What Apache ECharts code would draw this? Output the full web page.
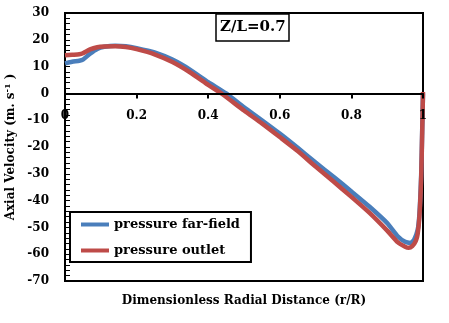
<!DOCTYPE html>
<html>
<head>
<meta charset="utf-8">
<script src="https://cdn.jsdelivr.net/npm/echarts@6/dist/echarts.min.js"></script>
<style>
  html, body { margin: 0; padding: 0; background: #fff; }
  #chart { width: 449px; height: 323px; }
</style>
</head>
<body>
<div id="chart"></div>
<script>
// radial positions (r/R) and axial velocity for each boundary condition
const rBlue = [0, 0.02, 0.04, 0.05, 0.07, 0.09, 0.11, 0.14, 0.17, 0.2, 0.25, 0.3, 0.35, 0.4, 0.45, 0.5, 0.55, 0.6, 0.65, 0.7, 0.75, 0.8, 0.85, 0.9, 0.93, 0.95, 0.965, 0.975, 0.985, 0.99, 0.995, 0.998, 1]
const farField = [11.2, 11.8, 12.2, 12.6, 14.8, 16.6, 17.4, 17.8, 17.6, 16.9, 15.3, 12.6, 8.8, 4.2, 0, -5.2, -10, -15, -20.3, -25.8, -31.1, -36.6, -42.2, -48.4, -53.4, -55.4, -55.8, -54.6, -51, -45, -30, -12, 0]

const rRed = [0, 0.02, 0.04, 0.05, 0.07, 0.09, 0.11, 0.14, 0.17, 0.2, 0.25, 0.3, 0.35, 0.4, 0.44, 0.5, 0.55, 0.6, 0.65, 0.7, 0.75, 0.8, 0.85, 0.9, 0.93, 0.95, 0.96, 0.97, 0.98, 0.985, 0.99, 0.995, 0.998, 1]
const outlet = [14.2, 14.4, 14.6, 15, 16.4, 17.2, 17.5, 17.6, 17.3, 16.5, 14.6, 11.7, 7.8, 3.2, -0.3, -6.4, -11.2, -16.3, -21.5, -27.3, -32.9, -38.6, -44.5, -51.2, -55.6, -57.2, -57.6, -57, -55, -52.5, -46, -31, -13, 0.5]

const xTicks = [0, 0.2, 0.4, 0.6, 0.8, 1]
const yMin = -70
const yMax = 30

const font = 'DejaVu Serif'
const gridTop = 13
const gridBottom = 42
const plotH = 323 - gridTop - gridBottom
// lift the x axis (line, ticks, labels) up to y = 0 like the Excel original
const zeroOffset = -plotH * (0 - yMin) / (yMax - yMin)

const chart = echarts.init(document.getElementById('chart'))

chart.setOption({
  animation: false,
  title: [
    {
      text: 'Z/L=0.7',
      left: 216,
      top: 14,
      padding: [6, 4, 6, 4],
      borderColor: '#000',
      borderWidth: 1.5,
      textStyle: { fontFamily: font, fontWeight: 'bold', fontSize: 15, color: '#000' }
    },
    {
      // x-axis title sits under the plot frame, not under the zero line
      text: 'Dimensionless Radial Distance (r/R)',
      left: 244,
      textAlign: 'center',
      top: 295,
      padding: 0,
      textStyle: { fontFamily: font, fontWeight: 'bold', fontSize: 12, color: '#000' }
    }
  ],
  legend: {
    orient: 'vertical',
    left: 70,
    top: 212,
    padding: [6, 11, 5, 11],
    itemGap: 13,
    itemWidth: 28,
    itemHeight: 4,
    icon: 'rect',
    borderColor: '#000',
    borderWidth: 2,
    textStyle: { fontFamily: font, fontWeight: 'bold', fontSize: 13, color: '#000' }
  },
  grid: {
    left: 65,
    right: 26,
    top: gridTop,
    bottom: gridBottom,
    outerBoundsMode: 'none',
    containLabel: false,
    show: true,
    borderColor: '#000',
    borderWidth: 2
  },
  xAxis: {
    type: 'value',
    min: 0,
    max: 1,
    interval: 0.2,
    offset: zeroOffset,
    z: 5,
    axisLine: { onZero: false, lineStyle: { color: '#000', width: 2 } },
    axisTick: { inside: false, length: 5, lineStyle: { color: '#000', width: 2 } },
    axisLabel: {
      margin: 16,
      fontFamily: font, fontWeight: 'bold', fontSize: 12, color: '#000',
      formatter: v => xTicks.includes(+v.toFixed(1)) ? String(+v.toFixed(1)) : ''
    },
    splitLine: { show: false }
  },
  yAxis: {
    type: 'value',
    min: yMin,
    max: yMax,
    interval: 10,
    name: '{a|Axial Velocity (m. s}{sup|-1}{a| )}',
    nameLocation: 'middle',
    nameRotate: 90,
    nameGap: 45,
    nameTextStyle: {
      rich: {
        a: { fontFamily: font, fontWeight: 'bold', fontSize: 12, color: '#000' },
        sup: { fontFamily: font, fontWeight: 'bold', fontSize: 8, color: '#000', verticalAlign: 'top', padding: [0, 0, 5, 0] }
      }
    },
    axisLine: { show: true, onZero: false, lineStyle: { color: '#000', width: 2 } },
    axisTick: { inside: true, length: 5, lineStyle: { color: '#000', width: 1 } },
    minorTick: { show: true, splitNumber: 5, length: 5, lineStyle: { color: '#000', width: 1 } },
    axisLabel: { margin: 16, fontFamily: font, fontWeight: 'bold', fontSize: 12, color: '#000' },
    splitLine: { show: false }
  },
  series: [
    {
      name: 'pressure far-field',
      type: 'line',
      data: rBlue.map((r, i) => [r, farField[i]]),
      showSymbol: false,
      smooth: 0.2,
      lineStyle: { color: '#4a7ebb', width: 4.5 },
      itemStyle: { color: '#4a7ebb' }
    },
    {
      name: 'pressure outlet',
      type: 'line',
      data: rRed.map((r, i) => [r, outlet[i]]),
      showSymbol: false,
      smooth: 0.2,
      lineStyle: { color: '#be4b48', width: 4.5 },
      itemStyle: { color: '#be4b48' }
    }
  ]
})
</script>
</body>
</html>
